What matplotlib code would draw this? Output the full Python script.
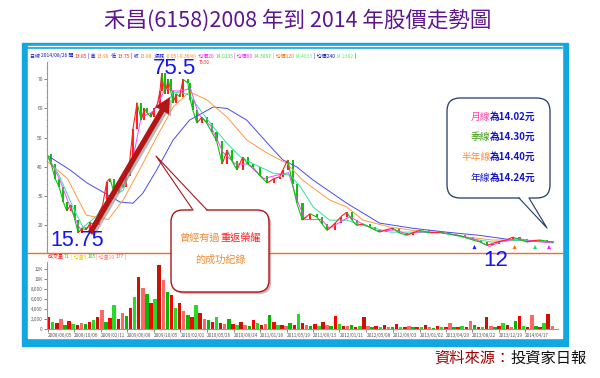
import numpy as np
import matplotlib
matplotlib.use("Agg")
import matplotlib.pyplot as plt
from matplotlib.patches import Rectangle, FancyBboxPatch, Polygon, FancyArrowPatch
from matplotlib.collections import LineCollection
import matplotlib.patheffects as pe

plt.rcParams['font.family'] = ['Noto Sans CJK TC', 'DejaVu Sans']

# 收盤價 (年份, 元)
years = [2008.45, 2008.50, 2008.55, 2008.60, 2008.65, 2008.69, 2008.74, 2008.79, 2008.83, 2008.88,
         2008.93, 2008.98, 2009.03, 2009.08, 2009.13, 2009.18, 2009.22, 2009.27, 2009.33, 2009.38,
         2009.42, 2009.46, 2009.50, 2009.55, 2009.60, 2009.64, 2009.67, 2009.72, 2009.76, 2009.79,
         2009.83, 2009.85, 2009.89, 2009.93, 2009.96, 2009.99, 2010.03, 2010.07, 2010.11, 2010.17,
         2010.20, 2010.23, 2010.28, 2010.34, 2010.40, 2010.46, 2010.52, 2010.59, 2010.65, 2010.71,
         2010.77, 2010.84, 2010.90, 2010.96, 2011.05, 2011.14, 2011.22, 2011.29, 2011.33, 2011.39,
         2011.45, 2011.50, 2011.57, 2011.66, 2011.75, 2011.81, 2011.87, 2011.97, 2012.04, 2012.11,
         2012.17, 2012.23, 2012.31, 2012.39, 2012.45, 2012.51, 2012.59, 2012.67, 2012.75, 2012.84,
         2012.92, 2013.00, 2013.12, 2013.25, 2013.35, 2013.45, 2013.55, 2013.65, 2013.75, 2013.82,
         2013.89, 2013.97, 2014.06, 2014.14, 2014.22, 2014.31, 2014.39, 2014.47, 2014.55, 2014.63]
close = [44.5, 41, 36, 33, 28, 25, 27, 22, 17.5, 19,
         18.5, 21, 20, 24, 27, 35, 36, 31, 34, 33,
         37, 42, 53, 62, 56, 60, 58.5, 57, 60, 60.5,
         66, 72, 65, 70, 66, 62, 65, 64, 70, 68.7,
         63, 59.5, 55, 57, 55, 52, 49, 41, 45.8, 42,
         39, 43.4, 41, 40, 37, 34.5, 36, 36.6, 39, 42.4,
         34, 27.6, 21.8, 24, 22.8, 20.5, 18.3, 20.8, 23, 24.5,
         22, 20, 20.5, 19.4, 18.5, 17.7, 18.5, 19, 17.5, 16.6,
         17.5, 18.3, 17.5, 17.7, 17, 16.6, 16, 15, 14.2, 13.2,
         13.8, 14.5, 15, 16, 15.2, 14.3, 14.8, 15, 14.6, 14.3]

# 均線
ma20_x = [2008.45, 2008.6, 2008.75, 2008.85, 2009.0, 2009.2, 2009.35, 2009.5, 2009.6, 2009.75,
          2009.9, 2010.0, 2010.1, 2010.2, 2010.3, 2010.45, 2010.6, 2010.75, 2010.9, 2011.1,
          2011.3, 2011.4, 2011.5, 2011.6, 2011.8, 2011.9, 2012.05, 2012.15, 2012.3, 2012.5,
          2012.7, 2012.85, 2013.0, 2013.3, 2013.5, 2013.7, 2013.85, 2014.0, 2014.2, 2014.4, 2014.63]
ma20_y = [44, 36, 25, 19, 19.5, 29, 33, 43, 57, 59,
          67, 66, 66, 67, 58, 54, 45, 41, 41, 36,
          37.5, 38, 29, 22, 22, 19, 21.5, 23, 20.5, 18,
          18.5, 17, 17.8, 17.5, 16.5, 15, 12.8, 14.5, 15.5, 14.6, 14.0]
ma60_x = [2008.45, 2008.6, 2008.77, 2008.89, 2009.05, 2009.18, 2009.38, 2009.58, 2009.79, 2009.99,
          2010.07, 2010.19, 2010.32, 2010.48, 2010.65, 2010.81, 2010.96, 2011.21, 2011.42, 2011.55,
          2011.70, 2011.90, 2012.11, 2012.31, 2012.64, 2012.92, 2013.33, 2013.58, 2013.89, 2014.22, 2014.63]
ma60_y = [44, 37, 26, 19.4, 23, 28.7, 32, 46.8, 56, 65.3,
          65.6, 64.6, 59.5, 53.7, 48, 43.5, 41.2, 37.9, 37.2, 33,
          26.3, 21.8, 21.8, 20, 17.7, 17.7, 17.3, 15.6, 14.3, 15, 14.3]
ma120_x = [2008.45, 2008.7, 2008.93, 2009.2, 2009.38, 2009.58, 2009.79, 2009.99, 2010.19, 2010.40,
           2010.65, 2010.89, 2011.14, 2011.38, 2011.57, 2011.90, 2012.11, 2012.31, 2012.64, 2012.92,
           2013.33, 2013.58, 2013.89, 2014.22, 2014.63]
ma120_y = [42, 36, 23.5, 22, 28.7, 39, 50.3, 60.5, 65.7, 63,
           57, 49.2, 44.7, 41.2, 35.5, 28.7, 26.3, 21.8, 19.4, 18.3,
           17.3, 16, 15, 15, 14.4]
ma240_x = [2008.45, 2008.73, 2008.94, 2009.16, 2009.34, 2009.50, 2009.62, 2009.79, 2009.99, 2010.19,
           2010.48, 2010.65, 2010.89, 2011.21, 2011.33, 2011.50, 2011.70, 2012.11, 2012.51, 2012.92,
           2013.33, 2013.73, 2014.14, 2014.63]
ma240_y = [44, 39, 34.5, 31, 28, 27.6, 31, 39, 49.2, 56,
           60.5, 60, 56, 46, 42.4, 40, 35.5, 27.6, 20.8, 19,
           17.7, 16.6, 15, 14.2]

# 成交量 (張), 每 0.05 年一根
vol_start, vol_step = 2008.47, 0.05
vol = [2400, 1500, 1200, 2000, 900, 1600, 1100, 800, 1300, 1000,
       1400, 1800, 2500, 3800, 1500, 2200, 4800, 2000, 3200, 2600,
       4300, 6500, 10400, 8200, 7000, 5200, 6000, 12800, 9800, 7500,
       6800, 4200, 5200, 3600, 2800, 2400, 4800, 3300, 2100, 1800,
       1500, 2500, 1200, 1100, 2000, 1000, 900, 1400, 800, 700,
       1800, 1200, 900, 1000, 2800, 1500, 900, 800, 700, 1300,
       900, 3000, 1200, 800, 700, 1000, 600, 1500, 800, 600,
       2600, 1100, 700, 600, 800, 500, 600, 2400, 700, 500,
       600, 500, 900, 400, 500, 1100, 500, 400, 600, 500,
       400, 500, 900, 400, 300, 600, 400, 500, 1200, 500,
       400, 600, 500, 1600, 800, 400, 500, 2400, 700, 500,
       600, 1300, 800, 500, 1600, 2600, 700, 500, 2800, 600,
       500, 1300, 3000, 700]

# 訊號三角形
sig_x = [2013.67, 2014.16, 2014.41, 2014.58]
sig_c = ['#2020ff', '#ff7010', '#20dd60', '#ff20ff']

date_ticks = [2008.46, 2008.78, 2009.11, 2009.43, 2009.76, 2010.08, 2010.40, 2010.73, 2011.05, 2011.38,
              2011.70, 2012.02, 2012.35, 2012.67, 2013.00, 2013.32, 2013.64, 2013.97, 2014.29]
date_labels = ['2008/06/05', '2008/10/06', '2009/02/11', '2009/06/08', '2009/10/05', '2010/02/01',
               '2010/05/26', '2010/09/24', '2011/01/18', '2011/05/19', '2011/09/13', '2012/01/11',
               '2012/05/08', '2012/09/03', '2013/01/02', '2013/04/29', '2013/08/22', '2013/12/19',
               '2014/04/17']

W, H = 600, 378
fig = plt.figure(figsize=(6, 3.78), dpi=100)


def rect(x0, y0, x1, y1):
    return [x0 / W, 1 - y1 / H, (x1 - x0) / W, (y1 - y0) / H]


# 背景框
bg = fig.add_axes([0, 0, 1, 1], zorder=-5)
bg.set_xlim(0, W)
bg.set_ylim(H, 0)
bg.axis('off')
bg.add_patch(Rectangle((22, 43), 546, 303, color='#12a7e2'))
bg.add_patch(Rectangle((28, 46), 534, 292, color='white'))
bg.plot([28, 562], [47.8, 47.8], color='#12a7e2', lw=1.2)
bg.plot([28, 562], [253, 253], color='#f07020', lw=1.0)

# 股價
ax = fig.add_axes(rect(47, 62, 558, 252))
ax.patch.set_alpha(0)
xmin, xmax = 2008.45, 2014.69
ax.set_xlim(xmin, xmax)
ax.set_ylim(10.9, 75.9)
for s in ['top', 'right', 'bottom']:
    ax.spines[s].set_visible(False)
ax.spines['left'].set_color('#999999')
ax.spines['left'].set_linewidth(0.8)
ax.set_xticks([])
ax.set_yticks([20, 30, 40, 50, 60, 70])
ax.set_yticks(np.arange(12, 76, 2), minor=True)
ax.tick_params(axis='y', labelsize=3.5, length=2, width=0.5, pad=1, colors='#555555')
ax.tick_params(axis='y', which='minor', length=1, width=0.4, colors='#999999')

ax.plot(ma240_x, ma240_y, color='#4a4af0', lw=0.7)
ax.plot(ma120_x, ma120_y, color='#ff9a40', lw=0.7)
ax.plot(ma60_x, ma60_y, color='#30e0a0', lw=0.7)
ax.plot(ma20_x, ma20_y, color='#ff40ff', lw=0.7)

segs = [[(years[i - 1], close[i - 1]), (years[i], close[i])] for i in range(1, len(close))]
seg_cols = ['#ff2020' if close[i] >= close[i - 1] else '#10c010' for i in range(1, len(close))]
ax.add_collection(LineCollection(segs, colors=seg_cols, linewidths=0.8))
bottoms = [min(close[i - 1], close[i]) for i in range(1, len(close))]
heights = [abs(close[i] - close[i - 1]) for i in range(1, len(close))]
ax.bar(years[1:], heights, bottom=bottoms, width=0.025, color=seg_cols, linewidth=0)

ax.scatter(sig_x, [12.6] * len(sig_x), marker='^', s=9, c=sig_c, linewidths=0)

# 成交量
vx = fig.add_axes(rect(47, 262, 558, 329))
vx.patch.set_alpha(0)
vx.set_xlim(xmin, xmax)
vx.set_ylim(0, 13400)
vols_x = [vol_start + vol_step * i for i in range(len(vol))]
pal = ['#ff0000', '#22dd22', '#cc1100', '#ff6666', '#00bb00']
vx.bar(vols_x, vol, width=0.042, color=[pal[i % len(pal)] for i in range(len(vol))], linewidth=0)
for s in ['top', 'right']:
    vx.spines[s].set_visible(False)
for s in ['left', 'bottom']:
    vx.spines[s].set_color('#999999')
    vx.spines[s].set_linewidth(0.8)
vx.set_yticks([0, 2000, 4000, 6000, 8000, 10000, 12000])
vx.set_yticklabels(['0', '2,000', '4,000', '6,000', '8,000', '10K', '12K'])
vx.set_xticks(date_ticks)
vx.set_xticklabels(date_labels, ha='left')
vx.tick_params(axis='both', labelsize=3.3, length=2, width=0.5, pad=1, colors='#555555')

# 標註層
ov = fig.add_axes([0, 0, 1, 1], zorder=10)
ov.set_xlim(0, W)
ov.set_ylim(H, 0)
ov.axis('off')
R = fig.canvas.get_renderer()


def seg_text(x, y, parts, size, ha='left'):
    order = parts if ha == 'left' else parts[::-1]
    for s, c, w in order:
        t = ov.text(x, y, s, color=c, fontsize=size, fontweight=w, ha=ha, va='center')
        wd = t.get_window_extent(R).width
        x = x + wd if ha == 'left' else x - wd


fig.text(298 / W, 1 - 21 / H, '禾昌(6158)2008 年到 2014 年股價走勢圖', color='#5e1590',
         fontsize=15.5, ha='center', va='center')

seg_text(30, 56, [('日線 ', '#1010cc', 'normal'), ('2014/08/26 開 ', '#1010cc', 'normal'),
                  ('13.85', '#ff2020', 'normal'), (' | 高 ', '#1010cc', 'normal'),
                  ('13.90', '#ff8020', 'normal'), ('  低 ', '#1010cc', 'normal'),
                  ('13.75', '#ff2020', 'normal'), (' | 收 ', '#1010cc', 'normal'),
                  ('13.80', '#ff8020', 'normal'), ('  漲跌 ', '#1010cc', 'normal'),
                  ('-0.05(-0.36%)', '#ff8020', 'normal'), ('  均價20 ', '#ff20ff', 'normal'),
                  ('14.0235', '#44dd44', 'normal'), (' | 均價60 ', '#ff20ff', 'normal'),
                  ('14.3067', '#44dd44', 'normal'), (' | 均價120 ', '#ff7010', 'normal'),
                  ('14.4033', '#66ee66', 'normal'), (' | 均價240 ', '#1010cc', 'normal'),
                  ('14.2382', '#66ee66', 'normal'), (' |', '#1010cc', 'normal')], 3.6)
seg_text(48, 257, [('成交量 ', '#ff1010', 'normal'), ('71', '#22cc22', 'normal'),
                   (' | 均量5 ', '#dddd00', 'normal'), ('105', '#22cc22', 'normal'),
                   (' | 均量10 ', '#ff8080', 'normal'), ('177', '#ff5050', 'normal'),
                   (' |', '#ff5050', 'normal')], 3.6)

# 紅色箭頭
arrow = FancyArrowPatch((90, 233), (170, 97),
                        arrowstyle='simple,head_width=1.6,head_length=1.6,tail_width=0.55',
                        mutation_scale=7, color='#b31515', lw=0, shrinkA=0, shrinkB=0,
                        path_effects=[pe.SimplePatchShadow(offset=(1.5, -1.5), shadow_rgbFace='#9a9a9a', alpha=0.7),
                                      pe.Normal()])
ov.add_patch(arrow)

ov.text(175, 69, '75.5', color='#1414f0', fontsize=16, ha='center', va='center', family='Liberation Sans')
ov.text(77, 240, '15.75', color='#1414f0', fontsize=15.5, ha='center', va='center', family='Liberation Sans')
ov.text(496, 261, '12', color='#1414f0', fontsize=16, ha='center', va='center', family='Liberation Sans')
ov.text(199, 63, '75.50', color='#ff2020', fontsize=3.2, ha='left', va='center')

# 左方說明框
ov.add_patch(FancyBboxPatch((171, 210), 98, 82, boxstyle='round,pad=0,rounding_size=12',
                            fc='white', ec='#a81818', lw=1.0,
                            path_effects=[pe.SimplePatchShadow(offset=(1.5, -1.5), shadow_rgbFace='#c06060', alpha=0.5),
                                          pe.Normal()]))
ov.add_patch(Polygon([(193, 211), (156, 156), (207, 211)], closed=True, fc='white', ec='none'))
ov.plot([193, 156, 207], [210, 156, 210], color='#a81818', lw=0.8)
ov.text(220, 238, '曾經有過', color='#f08a30', fontsize=7.3, ha='right', va='center')
ov.text(220, 238, '重返榮耀', color='#ff1a1a', fontsize=7.3, ha='left', va='center')
ov.text(220, 260, '的成功紀錄', color='#f08a30', fontsize=7.3, ha='center', va='center')

# 右方說明框
ov.add_patch(FancyBboxPatch((447, 98), 103, 100, boxstyle='round,pad=0,rounding_size=13',
                            fc='white', ec='#1f3a6a', lw=0.9))
ov.add_patch(Polygon([(519, 197), (547, 228), (529, 197)], closed=True, fc='white', ec='none'))
ov.plot([519, 547, 529], [198, 228, 198], color='#1f3a6a', lw=0.8)
navy = '#1515c8'
seg_text(536, 117, [('月線', '#ff3fa0', 'normal'), ('為14.02元', navy, 'bold')], 7, ha='right')
seg_text(536, 137, [('季線', '#3a9a10', 'normal'), ('為14.30元', navy, 'bold')], 7, ha='right')
seg_text(536, 157, [('半年線', '#ff8a3a', 'normal'), ('為14.40元', navy, 'bold')], 7, ha='right')
seg_text(536, 178, [('年線', navy, 'normal'), ('為14.24元', navy, 'bold')], 7, ha='right')

seg_text(587, 358, [('資料來源：', '#a00000', 'normal'), ('投資家日報', '#111111', 'normal')], 11, ha='right')

fig.savefig('out.png', dpi=100)
